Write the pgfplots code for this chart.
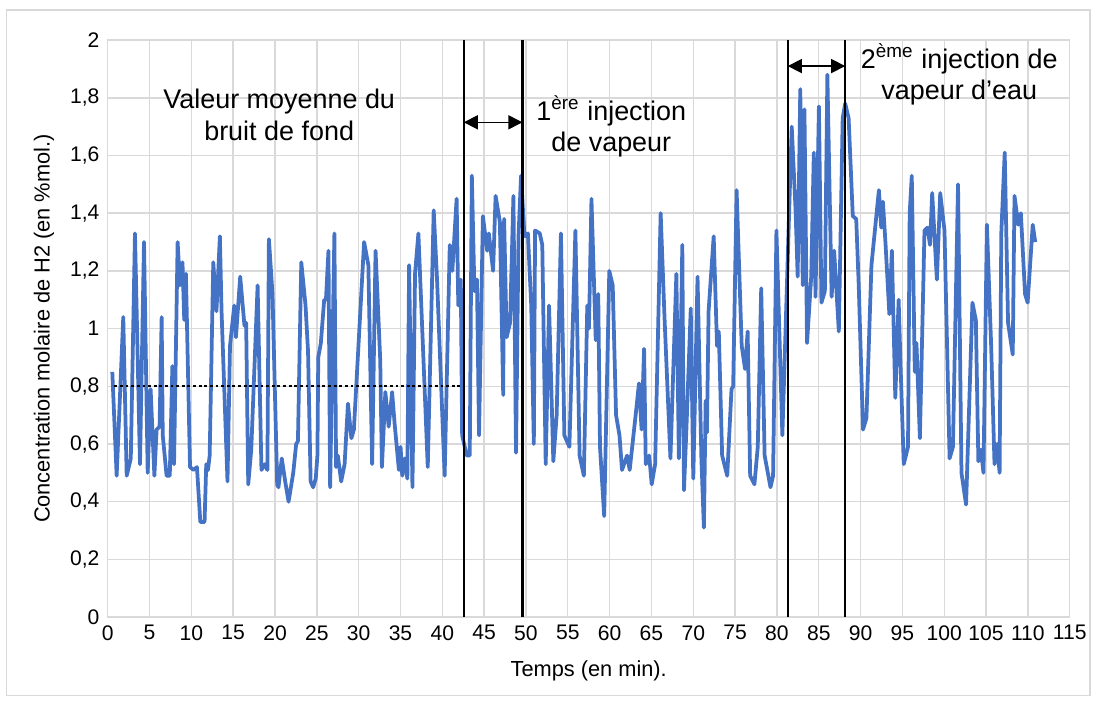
\documentclass[border=0pt]{standalone}
\usepackage{fontspec}
\setmainfont{Liberation Sans}
\usepackage{pgfplots}
\pgfplotsset{compat=1.18}
\usetikzlibrary{arrows.meta}
\definecolor{serie}{HTML}{4472C4}
\definecolor{grille}{HTML}{D9D9D9}

\begin{document}
\begin{tikzpicture}
\path[use as bounding box] (0,0) rectangle (16.455cm,10.53cm);
\draw[grille, line width=0.6pt] (0.1cm,0.1cm) rectangle (16.35cm,10.38cm);
\begin{axis}[
    at={(1.6155cm,1.2735cm)}, anchor=south west,
    scale only axis, width=14.43cm, height=8.655cm,
    xmin=0, xmax=115, ymin=0, ymax=2,
    xtick distance=5,
    ytick={0,0.2,0.4,0.6,0.8,1,1.2,1.4,1.6,1.8,2},
    grid=major,
    major grid style={line width=0.6pt, grille},
    axis line style={line width=0.6pt, grille},
    tick style={draw=none},
    /pgf/number format/use comma,
    /pgf/number format/assume math mode=true,
    ticklabel style={font=\fontsize{9}{11}\selectfont},
    label style={font=\fontsize{9.3}{11}\selectfont},
    xlabel={Temps (en min).},
    xlabel style={yshift=-2pt},
    ylabel={Concentration molaire de H2 (en \%mol.)},
    clip=false,
]
% signal H2
\addplot[serie, line width=1.6pt, line join=round] coordinates {
(0.55,0.85) (1.07,0.49) (1.86,1.04) (2.27,0.49) (2.76,0.55) (3.26,1.33)
(3.86,0.53) (4.34,1.30) (4.78,0.50) (5.13,0.79) (5.58,0.49) (5.85,0.65)
(6.20,0.66) (6.45,1.04) (6.58,0.63) (7.04,0.49) (7.42,0.49) (7.73,0.87)
(7.93,0.53) (8.36,1.30) (8.64,1.15) (8.94,1.23) (9.15,1.03) (9.35,1.19)
(9.84,0.52) (10.26,0.51) (10.67,0.52) (11.07,0.33) (11.58,0.33) (11.78,0.53)
(11.99,0.51) (12.19,0.56) (12.62,1.23) (13.00,1.06) (13.41,1.32) (13.61,1.06)
(14.32,0.47) (14.62,0.94) (15.13,1.08) (15.33,0.97) (15.84,1.18) (16.35,1.01)
(16.55,1.02) (16.80,0.46) (17.16,0.58) (17.92,1.15) (18.38,0.51) (18.78,0.53)
(19.09,0.51) (19.27,1.31) (19.70,1.12) (20.26,0.46) (20.41,0.45) (20.81,0.55)
(21.22,0.47) (21.62,0.40) (22.18,0.50) (22.53,0.60) (22.74,0.61) (23.14,1.23)
(23.65,1.08) (23.95,0.92) (24.26,0.47) (24.56,0.45) (24.87,0.48) (25.07,0.56)
(25.17,0.90) (25.48,0.95) (25.88,1.10) (26.09,1.10) (26.39,1.27) (26.59,0.45)
(27.10,1.33) (27.30,0.52) (27.51,0.56) (27.91,0.47) (28.32,0.53) (28.72,0.74)
(29.13,0.62) (29.43,0.65) (30.65,1.30) (31.16,1.22) (31.61,0.53) (32.02,1.27)
(32.58,0.89) (32.78,0.52) (33.19,0.78) (33.59,0.66) (34.00,0.78) (34.30,0.67)
(34.81,0.51) (35.01,0.59) (35.21,0.49) (35.52,0.55) (35.82,0.48) (36.03,1.22)
(36.43,0.45) (36.74,1.19) (37.14,1.33) (37.75,0.89) (38.26,0.52) (38.97,1.41)
(39.37,1.17) (40.28,0.49) (40.89,1.29) (41.20,1.20) (41.71,1.45) (41.91,1.08)
(42.21,1.17) (42.37,0.63) (42.92,0.56) (43.28,0.56) (43.53,1.53) (43.84,1.13)
(44.14,1.17) (44.39,0.63) (44.85,1.39) (45.36,1.27) (45.56,1.33) (46.07,1.20)
(46.37,1.46) (46.88,1.37) (47.28,0.77) (47.39,1.38) (47.69,0.97) (48.10,1.02)
(48.50,1.46) (48.81,0.57) (49.11,1.32) (49.41,1.53) (49.82,1.32) (50.23,1.33)
(50.63,1.08) (50.94,0.60) (51.09,1.34) (51.65,1.33) (51.95,1.29) (52.36,0.53)
(52.76,1.08) (53.27,0.54) (53.67,0.70) (54.18,1.33) (54.59,0.63) (55.19,0.59)
(55.91,1.34) (56.41,0.56) (56.92,0.49) (57.33,1.08) (57.53,1.00) (57.83,1.45)
(58.34,0.96) (58.64,1.12) (58.85,0.59) (59.35,0.35) (59.96,1.20) (60.37,1.15)
(60.77,0.70) (61.18,0.63) (61.48,0.51) (62.09,0.56) (62.40,0.51) (63.11,0.70)
(63.51,0.81) (63.82,0.65) (64.12,0.93) (64.32,0.53) (64.73,0.56) (65.03,0.46)
(65.44,0.53) (66.10,1.40) (66.56,1.04) (67.27,0.55) (67.98,1.19) (68.28,0.55)
(68.69,1.29) (68.89,0.44) (69.19,0.66) (69.70,1.07) (70.00,0.48) (70.51,1.18)
(70.97,0.55) (71.27,0.31) (71.48,0.75) (71.63,0.64) (71.83,1.06) (72.44,1.32)
(72.84,0.94) (73.05,0.99) (73.45,0.56) (74.06,0.49) (74.57,0.79) (74.77,0.80)
(75.18,1.48) (75.79,0.94) (76.19,0.86) (76.50,0.99) (76.80,0.49) (77.31,0.46)
(77.71,0.59) (78.12,1.14) (78.53,0.56) (79.23,0.45) (79.54,0.49) (79.94,1.34)
(80.65,0.63) (81.77,1.70) (82.23,1.41) (82.48,1.18) (82.79,1.83) (83.09,1.15)
(83.29,1.76) (83.60,0.95) (84.10,1.18) (84.41,1.61) (84.61,1.11) (85.02,1.77)
(85.32,1.09) (85.73,1.13) (86.03,1.88) (86.54,1.11) (86.84,1.27) (87.40,0.99)
(87.86,1.73) (88.16,1.78) (88.57,1.73) (89.07,1.39) (89.48,1.38) (89.78,1.15)
(90.29,0.65) (90.70,0.69) (91.30,1.22) (92.19,1.48) (92.47,1.35) (92.67,1.44)
(92.99,1.29) (93.44,1.05) (93.74,1.27) (94.15,0.76) (94.55,1.10) (94.76,0.89)
(95.16,0.53) (95.67,0.59) (95.87,1.40) (96.12,1.53) (96.48,0.85) (96.68,0.95)
(97.09,0.62) (97.64,1.34) (98.00,1.35) (98.30,1.29) (98.56,1.47) (99.12,1.17)
(99.52,1.47) (100.03,1.34) (100.64,0.55) (101.04,0.59) (101.65,1.50) (102.06,0.50)
(102.61,0.39) (103.37,1.09) (103.78,1.03) (104.08,0.54) (104.39,0.58) (104.69,0.50)
(105.10,1.36) (105.61,0.94) (106.01,0.53) (106.32,0.60) (106.62,0.50) (106.82,1.33)
(107.23,1.61) (107.63,1.02) (108.19,0.91) (108.40,1.46) (108.85,1.36) (109.16,1.40)
(109.66,1.12) (109.97,1.09) (110.58,1.36) (110.88,1.30)
};
% valeur moyenne du bruit de fond
\addplot[black, line width=1pt, dash pattern=on 1.2pt off 1.2pt] coordinates {(0.8,0.8) (42.3,0.8)};
% limites des injections
\addplot[black, line width=1pt] coordinates {(42.57,0) (42.57,2)};
\addplot[black, line width=1pt] coordinates {(49.57,0) (49.57,2)};
\addplot[black, line width=1pt] coordinates {(81.3,0) (81.3,2)};
\addplot[black, line width=1pt] coordinates {(88.16,0) (88.16,2)};
\draw[{Triangle[length=6pt,width=6pt]}-{Triangle[length=6pt,width=6pt]}, line width=0.7pt]
  (axis cs:42.57,1.715) -- (axis cs:49.57,1.715);
\draw[{Triangle[length=6pt,width=6pt]}-{Triangle[length=6pt,width=6pt]}, line width=0.7pt]
  (axis cs:81.3,1.91) -- (axis cs:88.16,1.91);
\node[align=center, font=\fontsize{11.5}{13.5}\selectfont] at (axis cs:20.5,1.74)
  {Valeur moyenne du\\bruit de fond};
\node[align=center, font=\fontsize{11.5}{13.5}\selectfont] at (axis cs:60.2,1.70)
  {1\textsuperscript{ère} injection\\de vapeur};
\node[align=center, font=\fontsize{11.5}{13.5}\selectfont] at (axis cs:101.8,1.88)
  {2\textsuperscript{ème} injection de\\vapeur d’eau};
\end{axis}
\end{tikzpicture}
\end{document}
